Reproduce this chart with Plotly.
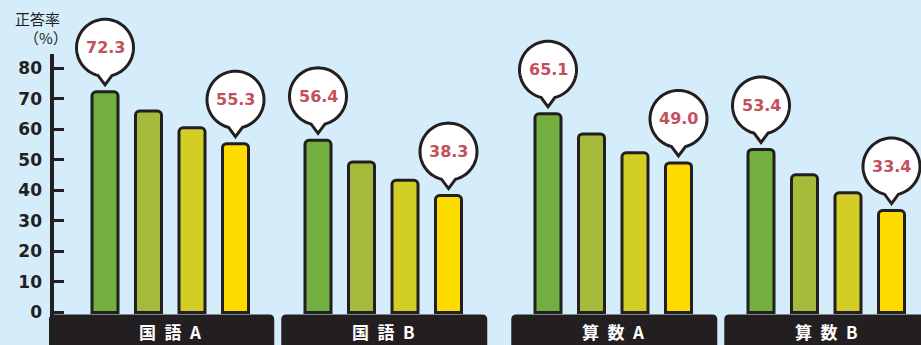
import math
import plotly.graph_objects as go

# ---------------- data ----------------
subjects = ["国語A", "国語B", "算数A", "算数B"]
series_1 = [72.3, 56.4, 65.1, 53.4]   # green (labelled)
series_2 = [66.0, 49.3, 58.5, 45.1]   # olive
series_3 = [60.5, 43.3, 52.3, 39.2]   # yellow-green
series_4 = [55.3, 38.3, 49.0, 33.4]   # yellow (labelled)
tick_values = [0, 10, 20, 30, 40, 50, 60, 70, 80]
y_title = "正答率"
y_unit = "（%）"

# ---------------- layout constants ----------------
W, H = 921, 345
ZERO_PX = 312.5          # pixel row of value 0
PX_PER_UNIT = 3.0525     # pixels per 1 percentage point
AXIS_X = 52
AXIS_TOP_PX = 54
GROUP_START = 105
GROUP_STEP = 213
SUBJECT_GAP = 17
BAR_STEP = 43.5
BAR_WIDTH = 26
DARK = "#231F20"
BG = "#D5EDFA"
colors = ["#72AF40", "#A5B93A", "#D3CE26", "#FFDC00"]
series = [series_1, series_2, series_3, series_4]
labelled = [0, 3]


def group_first_x(i):
    return GROUP_START + GROUP_STEP * i + (SUBJECT_GAP if i >= 2 else 0)


def bar_x(i, j):
    return group_first_x(i) + BAR_STEP * j


def group_center(i):
    return group_first_x(i) + BAR_STEP * 1.5


fig = go.Figure()
for j, vals in enumerate(series):
    fig.add_trace(go.Bar(
        x=[bar_x(i, j) for i in range(len(subjects))],
        y=vals,
        width=BAR_WIDTH,
        marker=dict(color=colors[j], line=dict(color=DARK, width=3), cornerradius=4),
        hoverinfo="skip",
        showlegend=False,
    ))

shapes = []
annotations = []

# y-axis line
shapes.append(dict(type="line", xref="x", yref="paper", x0=AXIS_X, x1=AXIS_X,
                   y0=0, y1=(H - AXIS_TOP_PX) / H,
                   line=dict(color=DARK, width=4), layer="above"))


# speech bubbles
def bubble_path(r=28.5, cy=44.0, tip=7.0, half=7.0, n=80):
    d = math.asin(half / r)
    a0 = -math.pi / 2 + d
    a1 = 3 * math.pi / 2 - d
    pts = [(0.0, tip)]
    for k in range(n + 1):
        t = a0 + (a1 - a0) * k / n
        pts.append((r * math.cos(t), cy + r * math.sin(t)))
    s = "M " + " L ".join(f"{x:.2f},{y:.2f}" for x, y in pts) + " Z"
    return s


BPATH = bubble_path()
for j in labelled:
    for i, v in enumerate(series[j]):
        shapes.append(dict(type="path", xref="x", yref="y",
                           xsizemode="pixel", ysizemode="pixel",
                           xanchor=bar_x(i, j), yanchor=v, path=BPATH,
                           fillcolor="white", line=dict(color=DARK, width=3),
                           layer="above"))
        annotations.append(dict(x=bar_x(i, j), y=v, xref="x", yref="y",
                                yshift=44, text=f"{v:.1f}", showarrow=False,
                                font=dict(family="DejaVu Sans", size=16,
                                          color="#C4505C", weight="bold"),
                                xanchor="center", yanchor="middle"))

# category boxes
for i, name in enumerate(subjects):
    c = group_center(i)
    x0 = AXIS_X - 3 if i == 0 else c - 102
    x1 = c + 104
    r = 5
    top = -2
    bot = -60
    p = (f"M {x0},{bot} L {x0},{top - r} Q {x0},{top} {x0 + r},{top} "
         f"L {x1 - r},{top} Q {x1},{top} {x1},{top - r} L {x1},{bot} Z")
    shapes.append(dict(type="path", xref="x", yref="y", ysizemode="pixel",
                       yanchor=0, path=p, fillcolor=DARK,
                       line=dict(width=0), layer="above"))
    annotations.append(dict(x=c, y=0, xref="x", yref="y", yshift=-19,
                            text="\u2002".join(list(name)), showarrow=False,
                            font=dict(family="Noto Sans CJK JP", size=17,
                                      color="white", weight="bold"),
                            xanchor="center", yanchor="middle"))

# axis title
annotations.append(dict(x=37 / W, y=1 - 19 / H, xref="paper", yref="paper",
                        text=y_title, showarrow=False,
                        font=dict(family="Noto Sans CJK JP", size=15, color=DARK),
                        xanchor="center", yanchor="middle"))
annotations.append(dict(x=46 / W, y=1 - 38 / H, xref="paper", yref="paper",
                        text=y_unit, showarrow=False,
                        font=dict(family="Noto Sans CJK JP", size=15, color=DARK),
                        xanchor="center", yanchor="middle"))

fig.update_layout(
    width=W, height=H,
    margin=dict(l=0, r=0, t=0, b=0),
    paper_bgcolor=BG, plot_bgcolor=BG,
    barmode="overlay",
    xaxis=dict(range=[0, W], visible=False, fixedrange=True),
    yaxis=dict(range=[-(H - ZERO_PX) / PX_PER_UNIT, ZERO_PX / PX_PER_UNIT],
               anchor="free", position=AXIS_X / W, side="left",
               tickvals=tick_values, ticks="inside", ticklen=11, tickwidth=3,
               tickcolor=DARK, showline=False, showgrid=False, zeroline=False,
               ticklabelstandoff=10,
               tickfont=dict(family="DejaVu Sans", size=17, color=DARK, weight="bold"),
               fixedrange=True),
    shapes=shapes,
    annotations=annotations,
)

fig.write_html(
    "out.html",
    config={"displayModeBar": False},
    post_script="document.body.style.margin='0';document.body.style.overflow='hidden';",
)
